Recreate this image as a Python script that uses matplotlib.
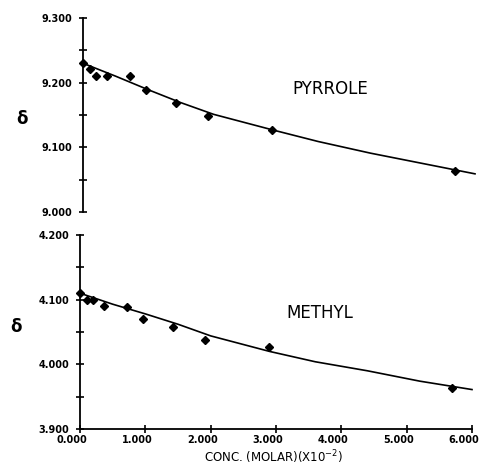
import matplotlib
matplotlib.use("Agg")
import matplotlib.pyplot as plt
import matplotlib.transforms as mtransforms
import numpy as np

# ---- data ----
conc = [0.0, 0.1, 0.2, 0.37, 0.72, 0.97, 1.43, 1.91, 2.90, 5.70]
pyrrole = [9.230, 9.221, 9.210, 9.210, 9.210, 9.189, 9.169, 9.148, 9.127, 9.064]
methyl = [4.110, 4.100, 4.100, 4.090, 4.089, 4.070, 4.058, 4.037, 4.027, 3.964]

fit_x = [0.0, 0.5, 1.0, 1.5, 2.0, 2.9, 3.6, 4.4, 5.2, 6.0]
pyrrole_fit = [9.230, 9.210, 9.189, 9.169, 9.151, 9.127, 9.109, 9.091, 9.075, 9.059]
methyl_fit = [4.110, 4.093, 4.078, 4.062, 4.044, 4.020, 4.004, 3.990, 3.974, 3.961]

x_ticks = [0, 1, 2, 3, 4, 5, 6]
x_ticklabels = ["0.000", "1.000", "2.000", "3.000", "4.000", "5.000", "6.000"]
top_major = [9.0, 9.1, 9.2, 9.3]
top_minor = [9.05, 9.15, 9.25]
bot_major = [3.9, 4.0, 4.1, 4.2]
bot_minor = [3.95, 4.05, 4.15]

W, H = 481, 465
fig = plt.figure(figsize=(W / 100, H / 100), dpi=100)

def px_axes(left, right, top, bottom):
    return fig.add_axes([left / W, 1 - bottom / H, (right - left) / W, (bottom - top) / H])

ax1 = px_axes(83, 475, 18, 212)
ax2 = px_axes(80, 472, 235, 429)

lab_font = dict(fontsize=7, fontweight="bold", family="DejaVu Sans")

def style(ax, major, minor, show_x):
    ax.set_facecolor("none")
    for s in ["top", "right"]:
        ax.spines[s].set_visible(False)
    ax.spines["left"].set_linewidth(1.3)
    ax.spines["bottom"].set_linewidth(1.3)
    ax.set_xlim(0, 6)
    ax.set_ylim(major[0], major[-1])
    ax.set_yticks(major)
    ax.set_yticks(minor, minor=True)
    ax.set_yticklabels(["%.3f" % v for v in major], **lab_font)
    ax.tick_params(axis="y", which="both", direction="inout", length=6, width=1.2, pad=5)
    if show_x:
        ax.set_xticks(x_ticks)
        ax.set_xticklabels(x_ticklabels, **lab_font)
        ax.tick_params(axis="x", which="both", direction="inout", length=6, width=1.2, pad=1)
        off = mtransforms.ScaledTranslation(-8 / 100, 0, fig.dpi_scale_trans)
        for lbl in ax.get_xticklabels():
            lbl.set_transform(lbl.get_transform() + off)
    else:
        ax.spines["bottom"].set_visible(False)
        ax.set_xticks([])

style(ax1, top_major, top_minor, False)
style(ax2, bot_major, bot_minor, True)

ax1.plot(fit_x, pyrrole_fit, color="black", lw=1.2, clip_on=False)
ax1.plot(conc, pyrrole, "D", color="black", ms=4.5, clip_on=False)
ax2.plot(fit_x, methyl_fit, color="black", lw=1.2, clip_on=False)
ax2.plot(conc, methyl, "D", color="black", ms=4.5, clip_on=False)

ax1.text(330 / W, 1 - 89 / H, "PYRROLE", transform=fig.transFigure, ha="center",
         va="center", fontsize=12)
ax2.text(320 / W, 1 - 313 / H, "METHYL", transform=fig.transFigure, ha="center",
         va="center", fontsize=12)

fig.text(22 / W, 1 - 119 / H, "δ", ha="center", va="center", fontsize=12, fontweight="bold")
fig.text(16 / W, 1 - 327 / H, "δ", ha="center", va="center", fontsize=12, fontweight="bold")

fig.text(274 / W, 1 - 462 / H, "CONC. (MOLAR)(X10$^{-2}$)", ha="center", va="baseline",
         fontsize=8.5)

fig.savefig("out.png", dpi=100)
